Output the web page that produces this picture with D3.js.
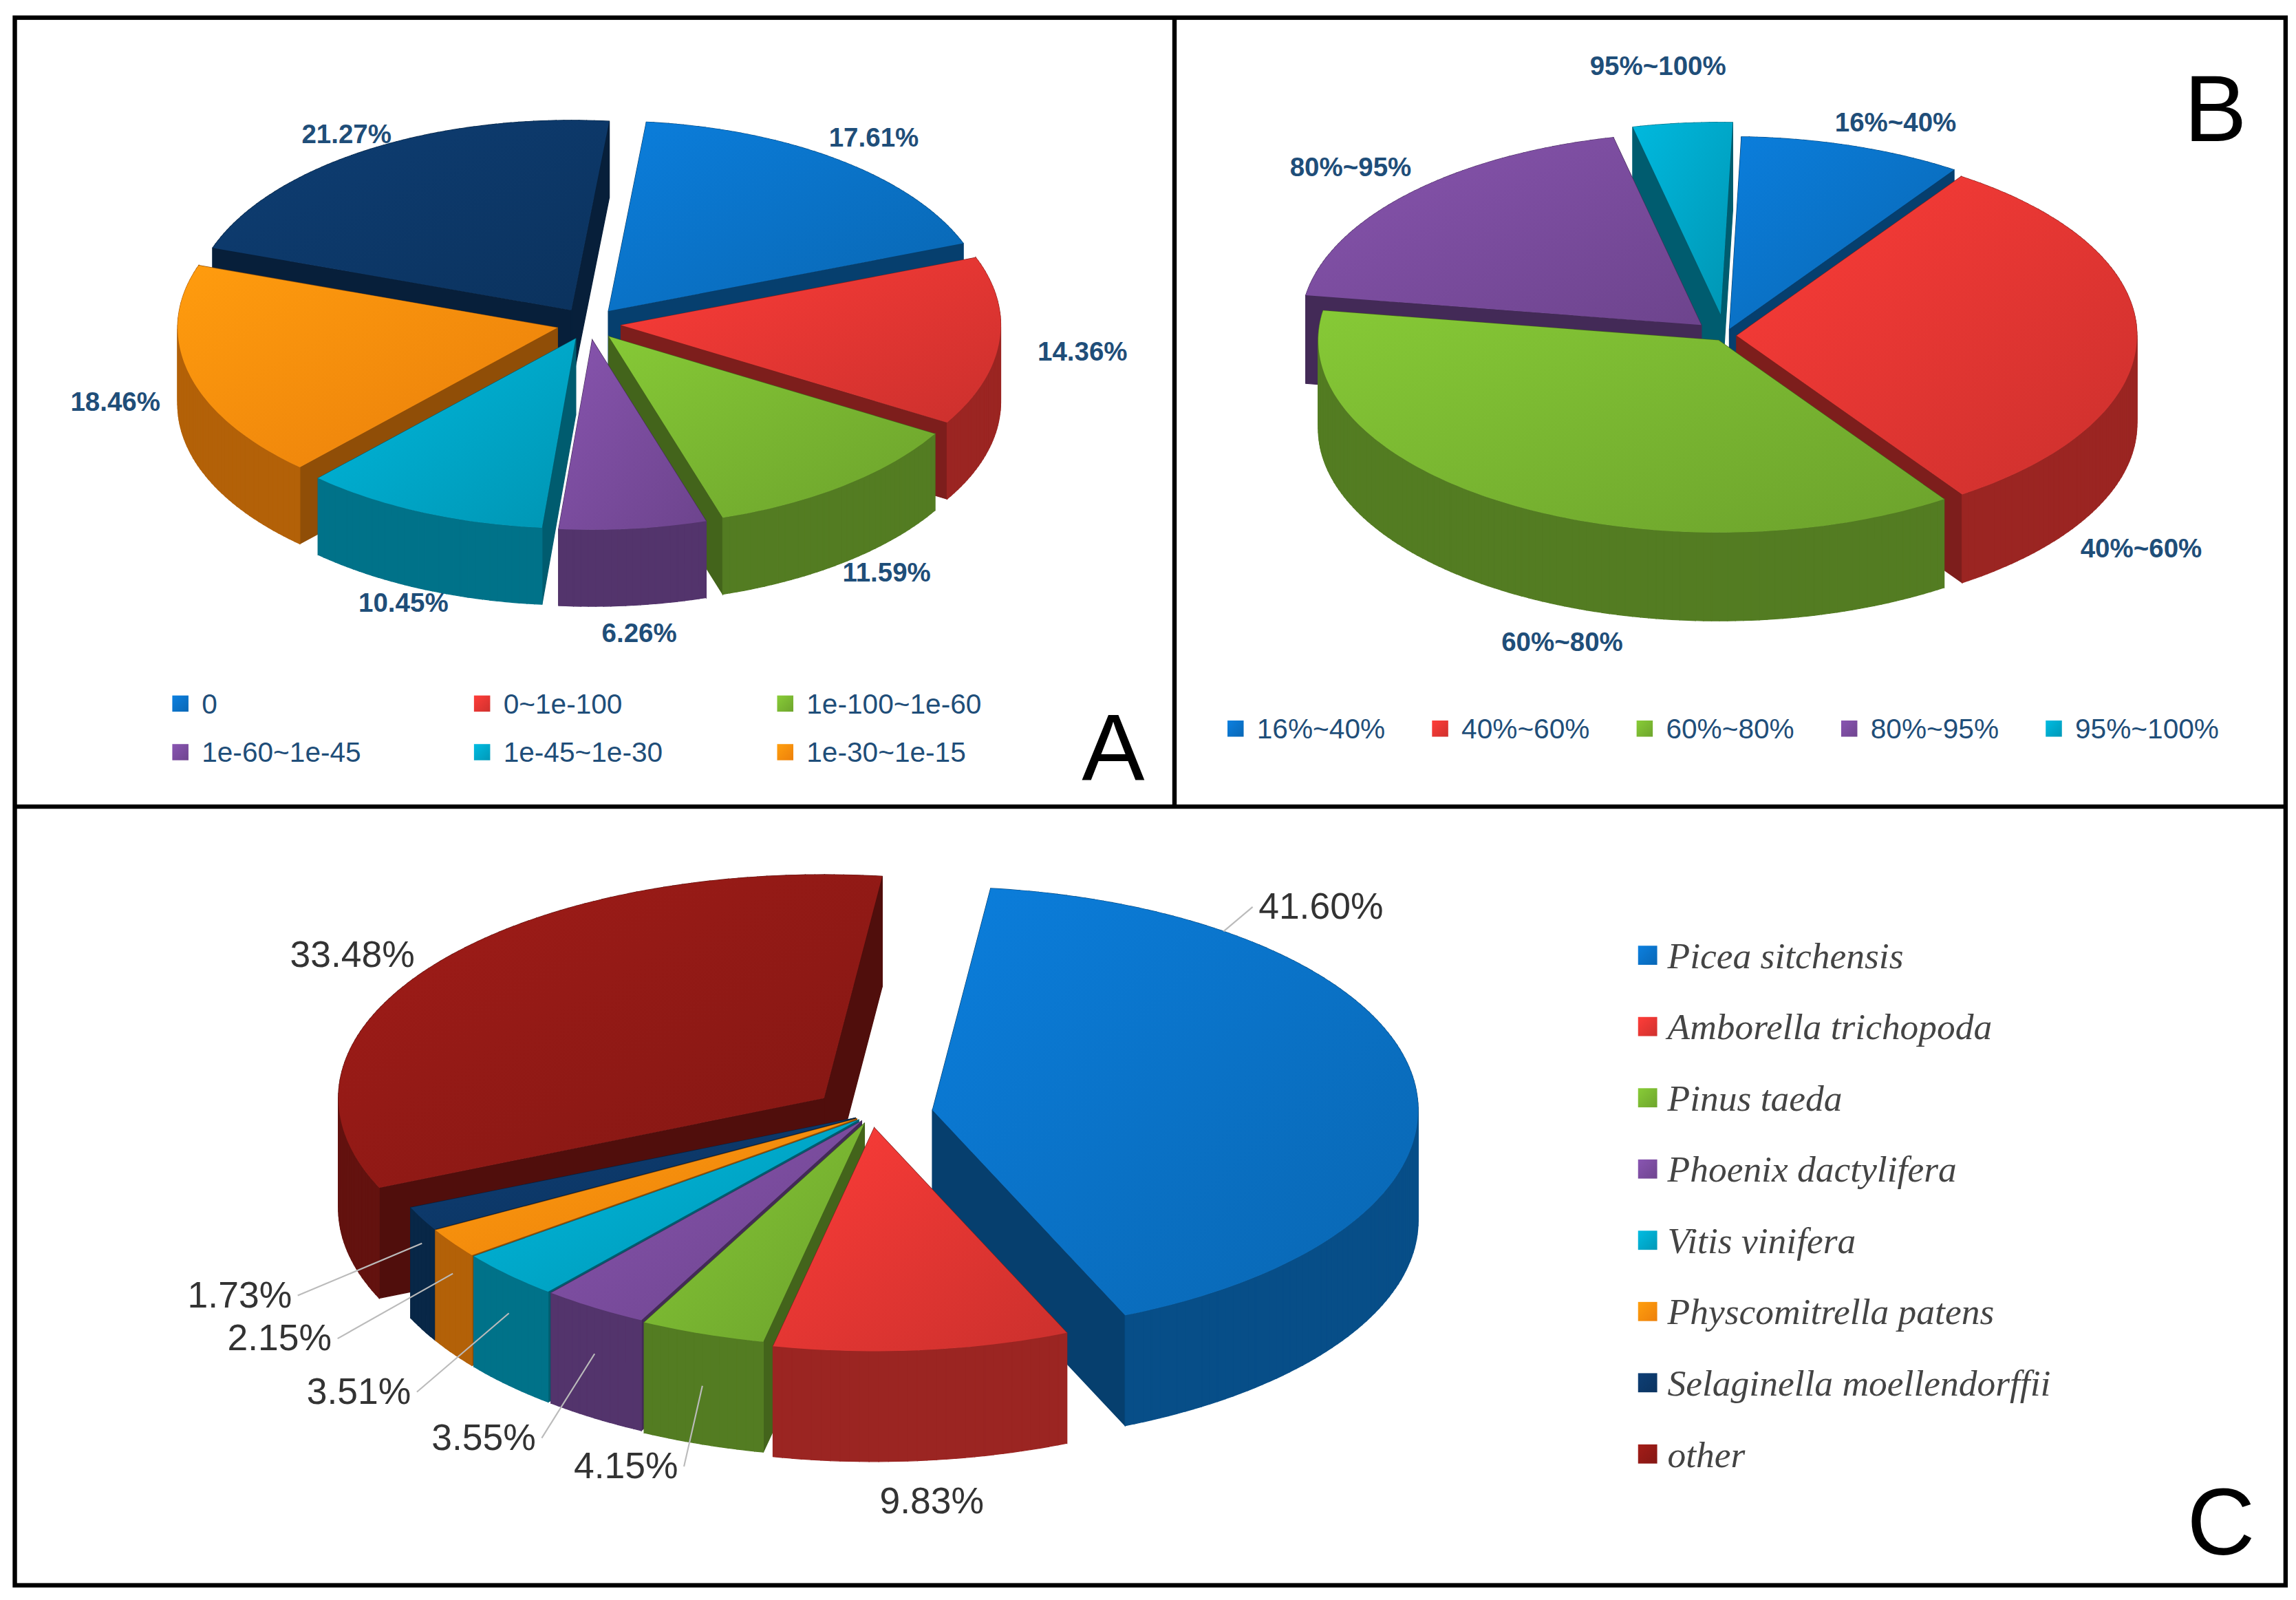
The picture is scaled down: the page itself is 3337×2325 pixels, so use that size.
<!DOCTYPE html>
<html><head><meta charset="utf-8">
<script src="https://cdn.jsdelivr.net/npm/d3@7"></script>
<style>body{margin:0;background:#fff}</style>
</head><body>
<svg id="chart" width="3337" height="2325" viewBox="0 0 1560 1087"></svg>
<script>
// data
const catsA = ['0', '0~1e-100', '1e-100~1e-60', '1e-60~1e-45', '1e-45~1e-30', '1e-30~1e-15', ''];
const valsA = [17.61, 14.36, 11.59, 6.26, 10.45, 18.46, 21.27];
const catsB = ['16%~40%', '40%~60%', '60%~80%', '80%~95%', '95%~100%'];
const valsB = [9, 31, 37, 19, 4];
const catsC = ['Picea sitchensis', 'Amborella trichopoda', 'Pinus taeda', 'Phoenix dactylifera',
  'Vitis vinifera', 'Physcomitrella patens', 'Selaginella moellendorffii', 'other'];
const valsC = [41.60, 9.83, 4.15, 3.55, 3.51, 2.15, 1.73, 33.48];

const colA = ['#0a6fc2', '#de3531', '#76b130', '#774a9a', '#00a3c4', '#ff8a0c', '#0c3766'];
const colB = ['#0a6fc2', '#de3531', '#76b130', '#774a9a', '#00a3c4'];
const colC = ['#0a6fc2', '#de3531', '#76b130', '#774a9a', '#00a3c4', '#ff8a0c', '#0c3766', '#8e1915'];

const svg = d3.select('#chart');
const defs = svg.append('defs');
let gid = 0;
function grad(c, k1, k2) {
  const id = 'g' + (gid++);
  const g = defs.append('linearGradient').attr('id', id).attr('x1', '0%').attr('y1', '0%').attr('x2', '100%').attr('y2', '100%');
  g.append('stop').attr('offset', '0%').attr('stop-color', d3.color(c).brighter(k1));
  g.append('stop').attr('offset', '100%').attr('stop-color', d3.color(c).darker(k2));
  return `url(#${id})`;
}

function pie3d(o) {
  const g = svg.append('g');
  const arcs = d3.pie().sort(null).startAngle(o.start).endAngle(o.start + 2 * Math.PI)(o.vals);
  const parts = arcs.map((a, i) => {
    const mid = (a.startAngle + a.endAngle) / 2;
    const e = o.explode[i];
    const ox = o.cx + e * Math.sin(mid), oy = o.cy - e * Math.cos(mid) * o.tilt;
    const pts = [[ox, oy]];
    const n = Math.max(4, Math.ceil((a.endAngle - a.startAngle) / 0.02));
    for (let k = 0; k <= n; k++) {
      const t = a.startAngle + (a.endAngle - a.startAngle) * k / n;
      pts.push([ox + o.r * Math.sin(t), oy - o.r * Math.cos(t) * o.tilt]);
    }
    return { i, a, mid, ox, oy, pts };
  });
  parts.sort((p, q) => d3.mean(p.pts, d => d[1]) - d3.mean(q.pts, d => d[1]));
  const line = d3.line();
  parts.forEach(p => {
    const c = o.colors[p.i];
    const quads = [];
    const m = p.pts.length;
    for (let k = 0; k < m; k++) {
      const p1 = p.pts[k], p2 = p.pts[(k + 1) % m];
      const radial = k === 0 || k === m - 1;
      quads.push({ radial, y: (p1[1] + p2[1]) / 2, d: [p1, p2, [p2[0], p2[1] + o.depth], [p1[0], p1[1] + o.depth]] });
    }
    quads.sort((a, b) => a.y - b.y);
    const wall = d3.color(c).darker(1.0), rad = d3.color(c).darker(1.6);
    quads.forEach(q => g.append('path').attr('d', line(q.d) + 'Z')
      .attr('fill', q.radial ? rad : wall).attr('stroke', q.radial ? rad : wall).attr('stroke-width', 0.6));
    g.append('path').attr('d', line(p.pts) + 'Z').attr('fill', grad(c, 0.35, 0.25));
  });
  // labels
  parts.forEach(p => {
    const lf = o.lf[p.i];
    const f = o.la ? o.la[p.i] : 0.5;
    const ang = p.a.startAngle + (p.a.endAngle - p.a.startAngle) * f;
    const dx = Math.sin(ang), dy = -Math.cos(ang) * o.tilt;
    const front = Math.max(0, -Math.cos(ang));
    const lx = p.ox + dx * o.r * lf, ly = p.oy + dy * o.r * lf + front * o.depth + 6;
    if (o.leader && o.leader[p.i]) {
      const rx = p.ox + dx * o.r, ry = p.oy + dy * o.r + front * o.depth * 0.5;
      const ex = lx + (dx > 0.3 ? -4 : dx < -0.3 ? 4 : 0);
      g.append('polyline').attr('points', [[rx, ry], [ex, ly - 8]].join(' '))
        .attr('fill', 'none').attr('stroke', '#bbb').attr('stroke-width', 1);
    }
    g.append('text').attr('x', lx).attr('y', ly).attr('text-anchor', o.anchor ? o.anchor(dx) : 'middle')
      .attr('font-family', 'Liberation Sans, Arial').attr('font-size', o.fs).attr('font-weight', o.fw)
      .attr('fill', o.lc).text(o.labels[p.i]);
  });
}

// panel borders
svg.append('rect').attr('x', 10).attr('y', 12).attr('width', 1543).attr('height', 1065).attr('fill', 'none').attr('stroke', '#000').attr('stroke-width', 3);
svg.append('line').attr('x1', 10).attr('x2', 1553).attr('y1', 548).attr('y2', 548).attr('stroke', '#000').attr('stroke-width', 3);
svg.append('line').attr('x1', 798).attr('x2', 798).attr('y1', 12).attr('y2', 548).attr('stroke', '#000').attr('stroke-width', 3);

pie3d({ vals: valsA, colors: colA, cx: 400, cy: 220, r: 258, tilt: 0.5, depth: 52, start: 0.1,
  explode: [22, 22, 22, 22, 22, 22, 22], lf: [1.15, 1.22, 1.18, 1.15, 1.12, 1.2, 1.1],
  labels: valsA.map(v => v.toFixed(2) + '%'), fs: 18, fw: 'bold', lc: '#1f4e79' });
pie3d({ vals: valsB, colors: colB, cx: 1172, cy: 228, r: 272, tilt: 0.48, depth: 60, start: 0.03,
  explode: [10, 8, 8, 22, 30], lf: [1.15, 1.3, 1.2, 1.2, 1.3], la: [0.6, 0.85, 0.4, 0.5, 0.4],
  labels: catsB, fs: 18, fw: 'bold', lc: '#1f4e79' });
pie3d({ vals: valsC, colors: colC, cx: 592, cy: 757, r: 330, tilt: 0.46, depth: 75, start: 0.12,
  explode: [42, 20, 14, 12, 12, 12, 12, 40], lf: [1.12, 1.2, 1.15, 1.22, 1.28, 1.3, 1.3, 1.05],
  la: [0.2, 0.5, 0.5, 0.5, 0.5, 0.5, 0.5, 0.5],
  leader: [1, 0, 1, 1, 1, 1, 1, 0], anchor: dx => dx > 0.3 ? 'start' : (dx < -0.3 ? 'end' : 'middle'),
  labels: valsC.map(v => v.toFixed(2) + '%'), fs: 25, fw: 'normal', lc: '#333' });

// legends
function legend(cats, cols, xs, ys, fs, font, style, tc, sq, gap) {
  cats.forEach((c, i) => {
    if (!c) return;
    const g = svg.append('g').attr('transform', `translate(${xs(i)},${ys(i)})`);
    g.append('rect').attr('x', 0).attr('y', -sq / 2 - 1).attr('width', sq).attr('height', sq).attr('fill', grad(cols[i], 0.4, 0.2));
    g.append('text').attr('x', sq + gap).attr('y', fs * 0.35 - 1).attr('font-family', font).attr('font-style', style)
      .attr('font-size', fs).attr('fill', tc).text(c);
  });
}
legend(catsA, colA, i => [117, 322, 528][i % 3], i => i < 3 ? 479 : 512, 19, 'Liberation Sans, Arial', 'normal', '#1f4e79', 11, 9);
legend(catsB, colB, i => 834 + i * 139, () => 496, 19, 'Liberation Sans, Arial', 'normal', '#1f4e79', 11, 9);
legend(catsC, colC, () => 1113, i => 650 + i * 48.4, 25, 'Liberation Serif, Times New Roman', 'italic', '#444', 13, 7);

// panel letters
[['A', 735, 530], ['B', 1484, 96], ['C', 1486, 1056]].forEach(([t, x, y]) =>
  svg.append('text').attr('x', x).attr('y', y).attr('font-family', 'Liberation Sans, Arial').attr('font-size', 64).text(t));
</script>
</body></html>
